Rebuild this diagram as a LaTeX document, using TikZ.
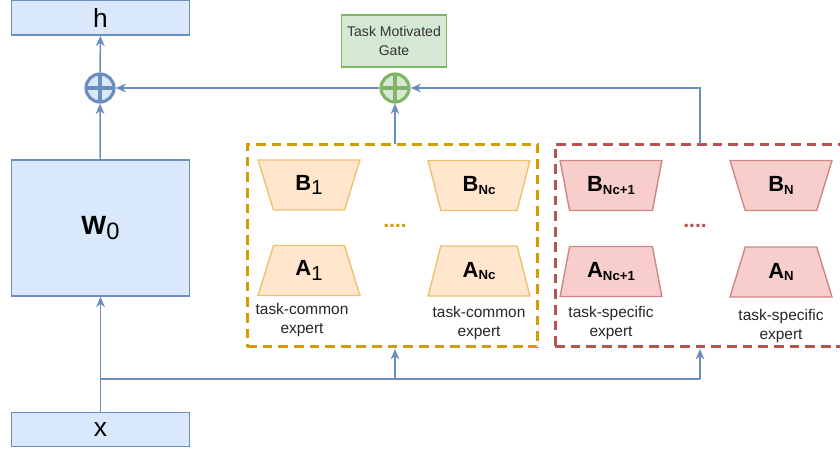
\documentclass[tikz,border=0pt]{standalone}
\usepackage{fontspec}
\setmainfont{Liberation Sans}
\usetikzlibrary{arrows.meta, shapes.geometric, positioning}
\definecolor{bluefill}{HTML}{DAE8FC}
\definecolor{bluedraw}{HTML}{6C8EBF}
\definecolor{greenfill}{HTML}{D5E8D4}
\definecolor{greendraw}{HTML}{82B366}
\definecolor{orangefill}{HTML}{FFE6CC}
\definecolor{orangedraw}{HTML}{D79B00}
\definecolor{orangeline}{HTML}{F0C070}
\definecolor{redfill}{HTML}{F8CECC}
\definecolor{reddraw}{HTML}{B85450}
\newcommand{\sublbl}[2]{\textbf{#1}\raisebox{-1.5pt}{\fontsize{7.5}{9}\selectfont\textbf{#2}}}
\newcommand{\numlbl}[2]{\textbf{#1}\raisebox{-2.4pt}{\fontsize{11.5}{13}\selectfont #2}}
\tikzset{
  box/.style = {draw=bluedraw, fill=bluefill, line width=0.8pt, minimum width=3.56cm, inner sep=0pt},
  plus/.style 2 args = {circle, draw=#1, fill=#2, line width=1.8pt, minimum size=0.56cm, inner sep=0pt,
    path picture={\draw[#1, line width=1.8pt] (path picture bounding box.north) -- (path picture bounding box.south)
      (path picture bounding box.west) -- (path picture bounding box.east);}},
  expert/.style 2 args = {trapezium, trapezium stretches=true, trapezium angle=73, minimum width=2.04cm,
    minimum height=1cm, inner sep=0pt, draw=#1, fill=#2, line width=0.8pt, font=\fontsize{12.5}{14}\selectfont},
  upper/.style = {shape border rotate=180},
  group/.style = {draw=#1, line width=1.7pt, dash pattern=on 5.5pt off 3.4pt, minimum height=4.06cm, inner sep=0pt},
  note/.style = {align=center, font=\fontsize{8.8}{11}\selectfont, text=black!85},
  arr/.style = {draw=bluedraw, line width=0.85pt, -{Stealth[length=6pt, width=5pt]}},
  line/.style = {draw=bluedraw, line width=0.85pt},
  dots/.style = {text=orangedraw, font=\bfseries\fontsize{12}{14}\selectfont}
}
\begin{document}
\begin{tikzpicture}[x=0.02cm, y=-0.02cm]
\useasboundingbox (0,0) rectangle (840,450);
\clip (0,0) rectangle (840,450);
\node [box, minimum height=0.7cm, font=\fontsize{15}{17}\selectfont] (h) at (100.5,17.5) {h};
\node [box, minimum height=2.72cm, font=\fontsize{15}{17}\selectfont] (w0) at (100.5,228) {\textbf{W}\raisebox{-3.2pt}{\fontsize{13.5}{15}\selectfont 0}};
\node [box, minimum height=0.68cm, font=\fontsize{15}{17}\selectfont] (x) at (100.5,429.5) {x};
\node [plus={bluedraw}{bluefill}] (bplus) at (100,88) {};
\node [plus={greendraw}{greenfill}] (gplus) at (395,88) {};
\node [draw=greendraw, fill=greenfill, line width=0.8pt, minimum width=2.06cm, minimum height=1.04cm, align=center,
  font=\fontsize{8}{11}\selectfont, text=black!80] (gate) at (394,41) {Task Motivated\\Gate};
\node [group=orangedraw, minimum width=5.82cm] (common) at (392.5,245.5) {};
\node [group=reddraw, minimum width=5.9cm] (specific) at (702.5,245.5) {};
\node [expert={orangeline}{orangefill}, upper] (b1) at (309,185) {\numlbl{B}{1}};
\node [expert={orangeline}{orangefill}] (a1) at (309,270.5) {\numlbl{A}{1}};
\node [expert={orangeline}{orangefill}, upper] (bnc) at (479,185.5) {\sublbl{B}{Nc}};
\node [expert={orangeline}{orangefill}] (anc) at (479,271) {\sublbl{A}{Nc}};
\node [expert={reddraw!70}{redfill}, upper] (bnc1) at (611,185.5) {\sublbl{B}{Nc+1}};
\node [expert={reddraw!70}{redfill}] (anc1) at (611,271.5) {\sublbl{A}{Nc+1}};
\node [expert={reddraw!70}{redfill}, upper] (bn) at (781,185.5) {\sublbl{B}{N}};
\node [expert={reddraw!70}{redfill}] (an) at (781,272) {\sublbl{A}{N}};
\node [dots] (cdots) at (395,226) {....};
\node [dots, text=reddraw] (sdots) at (695,226) {....};
\node [note] (cnote1) at (302,320) {task-common\\expert};
\node [note] (cnote2) at (479,323) {task-common\\expert};
\node [note] (snote1) at (611,323) {task-specific\\expert};
\node [note] (snote2) at (781,326) {task-specific\\expert};
\coordinate (split) at (100,379);
\coordinate (ctop) at (395,144);
\coordinate (stop) at (700,144);
\draw [arr] (x) -- (w0);
\draw [arr] (w0) -- (bplus);
\draw [arr] (bplus) -- (h);
\draw [arr] (gplus) -- (bplus);
\draw [arr] (ctop) -- (gplus);
\draw [arr] (stop) |- (gplus);
\draw [line] (split) -- (700,379);
\draw [arr] (395,379) -- (395,349);
\draw [arr] (700,379) -- (700,349);
\end{tikzpicture}
\end{document}
